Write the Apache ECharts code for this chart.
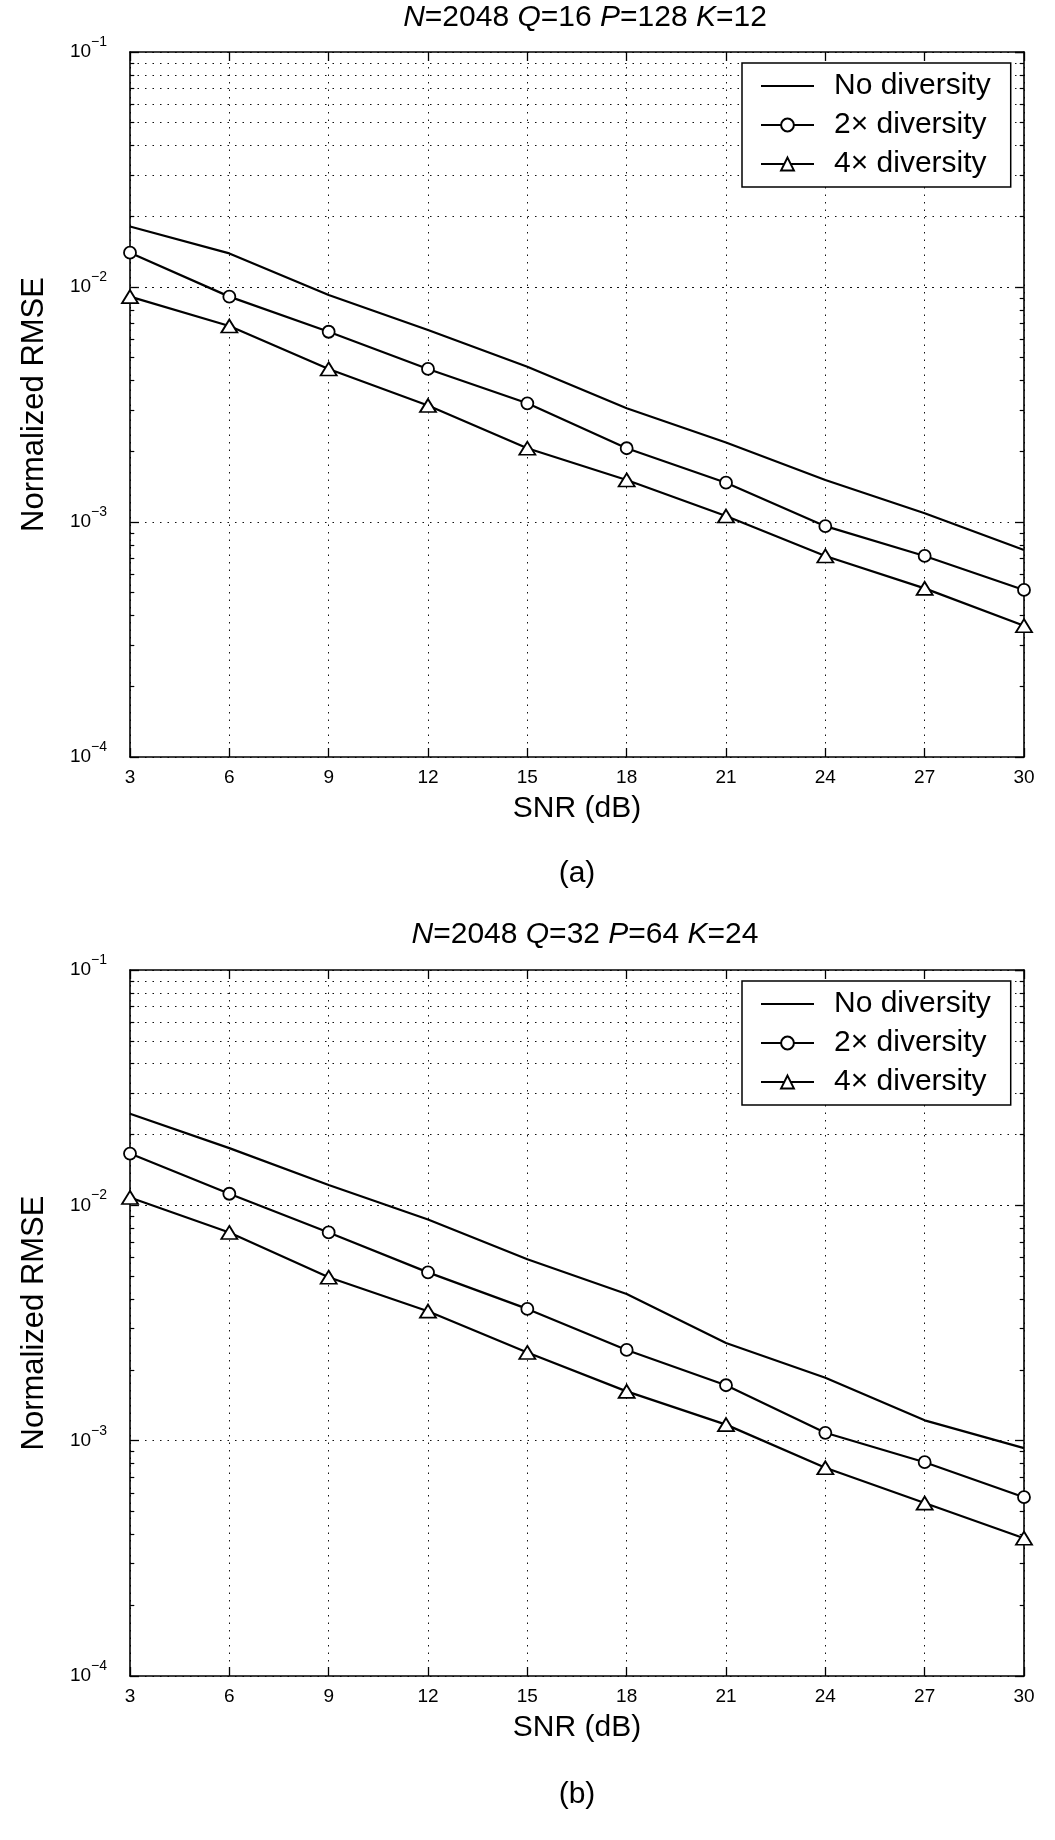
<!DOCTYPE html>
<html>
<head>
<meta charset="utf-8">
<script src="https://cdn.jsdelivr.net/npm/echarts@6/dist/echarts.min.js"></script>
<style>
    html, body { margin: 0; padding: 0; background: #fff; }
    #chart { width: 1055px; height: 1840px; }
</style>
</head>
<body>
<div id="chart"></div>
<script>
var snr = [3, 6, 9, 12, 15, 18, 21, 24, 27, 30];
var names = ['No diversity', '2\u00d7 diversity', '4\u00d7 diversity'];

// (a) N=2048 Q=16 P=128 K=12
var noDivA = [0.0181, 0.0139, 0.00925, 0.00656, 0.00458, 0.00305, 0.00218, 0.00151, 0.00109, 0.00076];
var div2A  = [0.0140, 0.0091, 0.00645, 0.00448, 0.0032, 0.00206, 0.00147, 0.00096, 0.000717, 0.000514];
var div4A  = [0.0091, 0.00682, 0.00448, 0.00313, 0.00206, 0.00151, 0.00106, 0.000717, 0.000522, 0.000362];

// (b) N=2048 Q=32 P=64 K=24
var noDivB = [0.0245, 0.0175, 0.0122, 0.0087, 0.0059, 0.0042, 0.0026, 0.00185, 0.00122, 0.00093];
var div2B  = [0.0166, 0.0112, 0.00767, 0.00519, 0.00363, 0.00243, 0.00172, 0.00108, 0.00081, 0.000575];
var div4B  = [0.0108, 0.00767, 0.00495, 0.00355, 0.00237, 0.00162, 0.00117, 0.000767, 0.000543, 0.000385];

var decades = [1e-4, 1e-3, 1e-2];
var minorSteps = [2, 3, 4, 5, 6, 7, 8, 9];

var FONT = "'Liberation Sans', Arial, Helvetica, sans-serif";

function pairs(vals) {
    return snr.map(function (x, i) { return [x, vals[i]]; });
}

// dotted minor grid lines plus short inward ticks on left/right border
function minorLines() {
    var out = [];
    decades.forEach(function (d) {
        minorSteps.forEach(function (m) {
            var v = d * m;
            out.push({ yAxis: v, lineStyle: { type: [1.5, 6], color: '#111', width: 1 } });
            out.push([{ coord: [3, v], lineStyle: { type: 'solid', color: '#000', width: 1.2 } }, { coord: [3.13, v] }]);
            out.push([{ coord: [29.87, v], lineStyle: { type: 'solid', color: '#000', width: 1.2 } }, { coord: [30, v] }]);
        });
    });
    return out;
}

function yLabel(v) {
    var e = Math.round(Math.log10(v));
    return '{b|10}{s|' + String(e).replace('-', '\u2212') + '}';
}

var axisLineStyle = { show: true, lineStyle: { color: '#000', width: 1.6 } };
var dotted = { show: true, lineStyle: { type: [1.5, 6], color: '#111', width: 1 } };
var tickStyle = { show: true, inside: true, length: 9, lineStyle: { color: '#000', width: 1.3 } };

function xAxes(gi) {
    return [{
        gridIndex: gi, type: 'value', min: 3, max: 30, interval: 3,
        name: 'SNR (dB)', nameLocation: 'middle', nameGap: 37,
        nameTextStyle: { fontSize: 30, color: '#000', fontFamily: FONT },
        axisLine: axisLineStyle,
        axisTick: tickStyle,
        axisLabel: { fontSize: 19, color: '#000', fontFamily: FONT, margin: 11, showMinLabel: true, showMaxLabel: true },
        splitLine: dotted
    }, {
        gridIndex: gi, type: 'value', min: 3, max: 30, interval: 3, position: 'top',
        axisLine: axisLineStyle,
        axisTick: tickStyle,
        axisLabel: { show: false },
        splitLine: { show: false }
    }];
}

function yAxes(gi) {
    return [{
        gridIndex: gi, type: 'log', logBase: 10, min: 1e-4, max: 1e-1,
        name: 'Normalized RMSE', nameLocation: 'middle', nameGap: 80,
        nameTextStyle: { fontSize: 31, color: '#000', fontFamily: FONT },
        axisLine: axisLineStyle,
        axisTick: tickStyle,
        axisLabel: {
            margin: 23, formatter: yLabel,
            rich: {
                b: { fontSize: 19, color: '#000', fontFamily: FONT, lineHeight: 34, verticalAlign: 'middle' },
                s: { fontSize: 14, color: '#000', fontFamily: FONT, lineHeight: 34, verticalAlign: 'top' }
            }
        },
        splitLine: dotted
    }, {
        gridIndex: gi, type: 'log', logBase: 10, min: 1e-4, max: 1e-1, position: 'right',
        axisLine: axisLineStyle,
        axisTick: tickStyle,
        axisLabel: { show: false },
        splitLine: { show: false }
    }];
}

function makeSeries(gi, vals) {
    var symbols = ['none', 'circle', 'triangle'];
    var sizes = [0, 12, [16, 13]];
    return vals.map(function (v, k) {
        var s = {
            name: names[k], type: 'line', xAxisIndex: gi * 2, yAxisIndex: gi * 2,
            data: pairs(v), symbol: symbols[k], symbolSize: sizes[k], showSymbol: k > 0,
            lineStyle: { color: '#000', width: 2.2 },
            itemStyle: { color: '#fff', borderColor: '#000', borderWidth: 1.8 },
            z: 3, animation: false, silent: true
        };
        if (k === 0) {
            // no marker: keep the legend sample a plain line
            s.itemStyle = { color: 'rgba(0,0,0,0)', borderColor: 'rgba(0,0,0,0)', borderWidth: 0 };
            s.markLine = {
                silent: true, symbol: 'none', z: 1, animation: false,
                label: { show: false }, emphasis: { disabled: true },
                data: minorLines()
            };
        }
        return s;
    });
}

function legendAt(top) {
    return {
        orient: 'vertical', left: 742, top: top,
        data: names,
        itemWidth: 53, itemHeight: 16, itemGap: 9,
        padding: [8, 20, 8, 18],
        backgroundColor: '#fff', borderColor: '#000', borderWidth: 1.5,
        textStyle: { fontSize: 30, color: '#000', fontFamily: FONT, padding: [0, 0, 0, 15], lineHeight: 30 },
        selectedMode: false
    };
}

function titleText(q, p, k) {
    return '{i|N}{n|=2048 }{i|Q}{n|=' + q + ' }{i|P}{n|=' + p + ' }{i|K}{n|=' + k + '}';
}

var titleRich = {
    i: { fontStyle: 'italic', fontSize: 30, fontFamily: FONT, fill: '#000' },
    n: { fontSize: 30, fontFamily: FONT, fill: '#000' }
};

var chart = echarts.init(document.getElementById('chart'));
chart.setOption({
    backgroundColor: '#fff',
    animation: false,
    grid: [
        { left: 130, right: 31, top: 52, height: 705 },
        { left: 130, right: 31, top: 970, height: 706 }
    ],
    xAxis: xAxes(0).concat(xAxes(1)),
    yAxis: yAxes(0).concat(yAxes(1)),
    legend: [legendAt(63), legendAt(981)],
    series: makeSeries(0, [noDivA, div2A, div4A]).concat(makeSeries(1, [noDivB, div2B, div4B])),
    graphic: [
        { type: 'text', x: 585, y: 18, style: { text: titleText(16, 128, 12), rich: titleRich, align: 'center', verticalAlign: 'middle', fontSize: 30, fontFamily: FONT } },
        { type: 'text', x: 585, y: 935, style: { text: titleText(32, 64, 24), rich: titleRich, align: 'center', verticalAlign: 'middle', fontSize: 30, fontFamily: FONT } },
        { type: 'text', x: 577, y: 874, style: { text: '(a)', fontSize: 30, fontFamily: FONT, fill: '#000', align: 'center', verticalAlign: 'middle' } },
        { type: 'text', x: 577, y: 1795, style: { text: '(b)', fontSize: 30, fontFamily: FONT, fill: '#000', align: 'center', verticalAlign: 'middle' } }
    ]
});
</script>
</body>
</html>
